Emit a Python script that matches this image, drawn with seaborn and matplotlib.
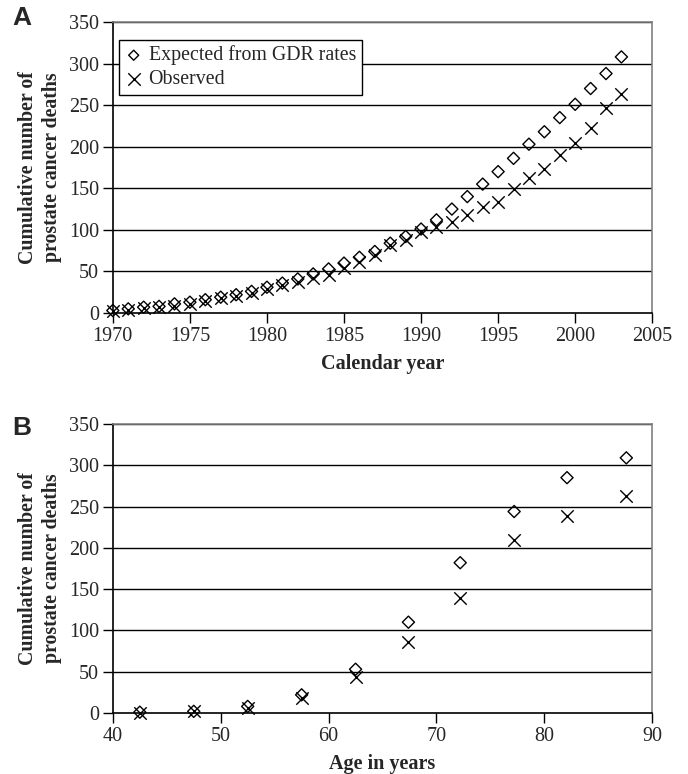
import pandas as pd
import matplotlib.pyplot as plt
import seaborn as sns

# Panel A: cumulative deaths by calendar year
years = list(range(1970, 2004))
expected_year = [3, 5, 7, 8, 11, 13, 16, 19, 22, 26, 31, 36, 41, 47, 53, 60, 67, 74,
                 84, 92, 101, 112, 125, 140, 155, 170, 186, 203, 218, 235, 251, 270, 288, 308]
observed_year = [2, 4, 6, 7, 9, 11, 14, 18, 20, 24, 29, 34, 37, 42, 46, 54, 61, 70,
                 82, 88, 97, 104, 110, 118, 127, 134, 149, 162, 173, 190, 205, 222, 246, 263]

# Panel B: cumulative deaths by age
ages = [42.5, 47.5, 52.5, 57.5, 62.5, 67.4, 72.2, 77.2, 82.1, 87.6]
expected_age = [1, 2, 8, 22, 53, 110, 182, 244, 285, 309]
observed_age = [0, 2, 6, 18, 44, 86, 139, 210, 239, 263]

df_a = pd.DataFrame({"x": years, "expected": expected_year, "observed": observed_year})
df_b = pd.DataFrame({"x": ages, "expected": expected_age, "observed": observed_age})

sns.set_style("white")
plt.rcParams['font.family'] = ['Liberation Serif', 'DejaVu Serif']
plt.rcParams['font.size'] = 14

fig = plt.figure(figsize=(6.88, 7.74), dpi=100)
ax_a = fig.add_axes([0.164, 0.5956, 0.784, 0.376])
ax_b = fig.add_axes([0.164, 0.0788, 0.784, 0.3734])


def draw_panel(ax, df, xlim, xticks, xlabel):
    sns.scatterplot(data=df, x="x", y="expected", ax=ax, marker="D", s=38,
                    facecolor="none", edgecolor="black", linewidth=1.0,
                    label="Expected from GDR rates", zorder=3, clip_on=False)
    sns.scatterplot(data=df, x="x", y="observed", ax=ax, marker="x", s=80,
                    color="black", linewidth=1.0, label="Observed", zorder=3,
                    clip_on=False)
    ax.set_xlim(*xlim)
    ax.set_ylim(0, 350)
    ax.set_xticks(xticks)
    ax.set_yticks(range(0, 351, 50))
    for v in range(50, 351, 50):
        ax.axhline(v, color="black", linewidth=1.0, zorder=1)
    for side in ["top", "right"]:
        ax.spines[side].set_color("#808080")
        ax.spines[side].set_linewidth(1.2)
    for side in ["left", "bottom"]:
        ax.spines[side].set_color("black")
        ax.spines[side].set_linewidth(1.2)
    ax.tick_params(axis="both", direction="out", length=7, width=1.0,
                   color="black", labelsize=14.5, left=True, bottom=True, pad=3)
    ax.set_xlabel(xlabel, fontsize=14.5, fontweight="bold", labelpad=6)
    ax.set_ylabel("Cumulative number of\nprostate cancer deaths",
                  fontsize=14.3, fontweight="bold", labelpad=5, linespacing=1.25)


draw_panel(ax_a, df_a, (1970, 2005), range(1970, 2006, 5), "Calendar year")
draw_panel(ax_b, df_b, (40, 90), range(40, 91, 10), "Age in years")

leg = ax_a.legend(loc="upper left", bbox_to_anchor=(0.0, 0.96), fontsize=14.3,
                  frameon=True, fancybox=False, handletextpad=0.3,
                  handlelength=0.9, borderpad=0.3, labelspacing=0.25,
                  borderaxespad=0.3)
leg.get_frame().set_edgecolor("black")
leg.get_frame().set_linewidth(1.0)
leg.get_frame().set_alpha(1)
# smaller diamond in the legend, as in the reference
leg.legend_handles[0].set_sizes([26])
ax_b.get_legend().remove()

fig.text(0.018, 0.992, "A", fontsize=19, fontweight="bold",
         family=["Liberation Sans", "DejaVu Sans"], va="top")
fig.text(0.018, 0.463, "B", fontsize=19, fontweight="bold",
         family=["Liberation Sans", "DejaVu Sans"], va="top")

fig.savefig("out.png", dpi=100)
